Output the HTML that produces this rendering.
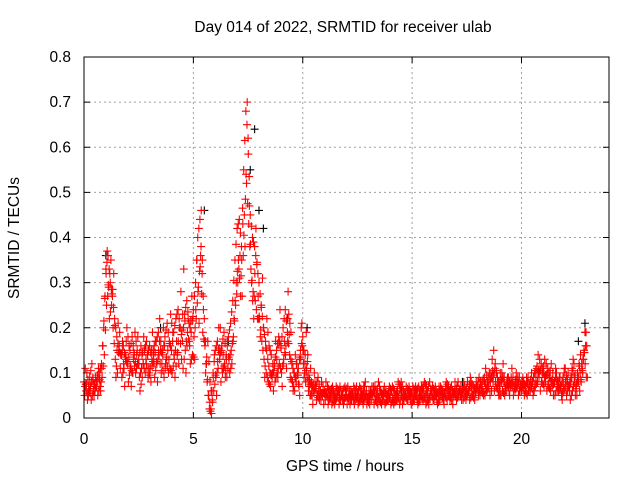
<!DOCTYPE html>
<html><head><meta charset="utf-8"><style>
body{margin:0;background:#fff}
svg text{font-family:"Liberation Sans",sans-serif;font-size:15.5px;fill:#000}
</style></head><body>
<svg id="c" width="640" height="480" xmlns="http://www.w3.org/2000/svg">
<text x="343" y="32" text-anchor="middle">Day 014 of 2022, SRMTID for receiver ulab</text>
<text x="345" y="471" text-anchor="middle">GPS time / hours</text>
<text transform="translate(19,238) rotate(-90)" text-anchor="middle">SRMTID / TECUs</text>
<g id="grid"></g><g id="pts"></g>
<rect x="84" y="57" width="525" height="361" fill="none" stroke="#000" stroke-width="1"/>
</svg>
<script>
const xTicks=[0,5,10,15,20];
const yTicks=[0,0.1,0.2,0.3,0.4,0.5,0.6,0.7,0.8];
const yTickLabels=["0","0.1","0.2","0.3","0.4","0.5","0.6","0.7","0.8"];
const tStart=0, tStep=0.1;
const seriesA=[0.08,0.06,0.05,0.07,0.09,0.06,0.08,0.10,0.12,0.20,
0.33,0.36,0.30,0.27,0.22,0.18,0.15,0.14,0.16,0.13,
0.12,0.15,0.18,0.14,0.11,0.13,0.16,0.12,0.10,0.14,
0.16,0.13,0.12,0.17,0.19,0.15,0.14,0.18,0.21,0.17,
0.15,0.19,0.22,0.24,0.20,0.17,0.23,0.26,0.21,0.19,
0.24,0.30,0.40,0.44,0.32,0.22,0.12,0.05,0.02,0.10,
0.15,0.17,0.13,0.16,0.19,0.14,0.18,0.21,0.26,0.35,
0.42,0.44,0.38,0.55,0.68,0.62,0.45,0.40,0.38,0.34,
0.30,0.25,0.20,0.17,0.13,0.10,0.09,0.12,0.15,0.18,
0.16,0.20,0.24,0.19,0.14,0.12,0.10,0.08,0.11,0.15,
0.18,0.12,0.09,0.07,0.08,0.06,0.07,0.09,0.06,0.05,
0.06,0.05,0.04,0.05,0.06,0.04,0.05,0.07,0.05,0.04,
0.05,0.04,0.06,0.05,0.04,0.05,0.07,0.06,0.04,0.05,
0.04,0.06,0.05,0.07,0.05,0.04,0.03,0.05,0.06,0.04,
0.05,0.07,0.06,0.04,0.05,0.08,0.06,0.05,0.04,0.06,
0.05,0.04,0.06,0.07,0.05,0.04,0.05,0.06,0.08,0.05,
0.04,0.06,0.05,0.07,0.06,0.05,0.04,0.06,0.07,0.05,
0.06,0.08,0.05,0.06,0.07,0.05,0.06,0.08,0.07,0.06,
0.07,0.05,0.08,0.09,0.06,0.07,0.10,0.08,0.12,0.09,
0.07,0.10,0.08,0.06,0.09,0.07,0.08,0.06,0.07,0.09,
0.06,0.08,0.07,0.09,0.06,0.08,0.10,0.11,0.09,0.12,
0.10,0.08,0.11,0.09,0.07,0.08,0.10,0.06,0.07,0.09,
0.11,0.08,0.06,0.09,0.12,0.07,0.09,0.14,0.10,0.19];
const seriesB=[0.05,0.10,0.07,0.04,0.06,0.09,0.05,0.07,0.09,0.14,
0.25,0.29,0.35,0.20,0.13,0.10,0.19,0.09,0.11,0.17,
0.08,0.11,0.10,0.19,0.15,0.09,0.11,0.18,0.13,0.09,
0.11,0.19,0.09,0.12,0.14,0.10,0.20,0.12,0.15,0.11,
0.10,0.13,0.17,0.12,0.28,0.11,0.15,0.19,0.16,0.27,
0.18,0.22,0.29,0.36,0.19,0.16,0.08,0.02,0.01,0.06,
0.09,0.11,0.20,0.10,0.12,0.09,0.13,0.15,0.18,0.25,
0.30,0.36,0.27,0.45,0.52,0.43,0.33,0.28,0.26,0.22,
0.22,0.17,0.13,0.10,0.08,0.07,0.12,0.08,0.10,0.12,
0.10,0.13,0.16,0.28,0.09,0.08,0.06,0.12,0.07,0.20,
0.12,0.08,0.14,0.05,0.05,0.10,0.04,0.06,0.04,0.07,
0.04,0.07,0.06,0.03,0.04,0.07,0.06,0.04,0.06,0.07,
0.03,0.06,0.04,0.07,0.06,0.03,0.04,0.05,0.07,0.03,
0.06,0.04,0.07,0.04,0.03,0.06,0.05,0.07,0.04,0.06,
0.03,0.04,0.05,0.06,0.03,0.05,0.04,0.07,0.06,0.04,
0.07,0.06,0.04,0.05,0.07,0.06,0.03,0.04,0.05,0.07,
0.06,0.04,0.07,0.05,0.04,0.07,0.06,0.04,0.05,0.06,
0.04,0.05,0.07,0.04,0.05,0.08,0.04,0.05,0.05,0.08,
0.05,0.08,0.06,0.05,0.08,0.10,0.06,0.15,0.07,0.06,
0.10,0.06,0.05,0.08,0.06,0.09,0.05,0.08,0.09,0.06,
0.08,0.05,0.09,0.06,0.08,0.05,0.07,0.08,0.13,0.08,
0.07,0.12,0.07,0.06,0.10,0.05,0.07,0.09,0.05,0.06,
0.07,0.10,0.04,0.06,0.08,0.05,0.12,0.08,0.13,0.16];
const seriesC=[0.11,0.04,0.09,0.12,0.05,0.08,0.11,0.06,0.16,0.27,
0.37,0.22,0.25,0.32,0.09,0.21,0.11,0.17,0.07,0.20,
0.16,0.07,0.13,0.10,0.18,0.06,0.09,0.15,0.17,0.11,
0.08,0.15,0.17,0.08,0.22,0.12,0.09,0.13,0.10,0.23,
0.19,0.09,0.14,0.20,0.13,0.33,0.10,0.22,0.12,0.14,
0.13,0.35,0.21,0.46,0.24,0.10,0.17,0.08,0.04,0.14,
0.05,0.20,0.08,0.14,0.09,0.17,0.10,0.12,0.22,0.30,
0.35,0.27,0.43,0.38,0.70,0.47,0.30,0.22,0.42,0.27,
0.18,0.31,0.09,0.22,0.16,0.14,0.06,0.17,0.09,0.24,
0.07,0.17,0.11,0.23,0.19,0.06,0.14,0.10,0.05,0.21,
0.09,0.19,0.06,0.11,0.03,0.08,0.05,0.04,0.08,0.03,
0.08,0.03,0.06,0.07,0.03,0.06,0.03,0.05,0.03,0.06,
0.07,0.03,0.05,0.03,0.07,0.04,0.05,0.03,0.08,0.04,
0.03,0.07,0.03,0.05,0.08,0.06,0.05,0.03,0.04,0.07,
0.06,0.03,0.04,0.08,0.07,0.03,0.05,0.04,0.07,0.03,
0.04,0.07,0.03,0.04,0.06,0.08,0.07,0.03,0.06,0.04,
0.07,0.03,0.04,0.06,0.03,0.08,0.07,0.05,0.03,0.08,
0.05,0.06,0.04,0.08,0.04,0.06,0.09,0.05,0.04,0.07,
0.09,0.06,0.05,0.11,0.08,0.05,0.13,0.06,0.10,0.05,
0.05,0.12,0.06,0.09,0.05,0.11,0.07,0.10,0.05,0.07,
0.09,0.06,0.05,0.07,0.10,0.06,0.09,0.14,0.06,0.10,
0.13,0.06,0.09,0.12,0.05,0.11,0.06,0.09,0.04,0.11,
0.05,0.07,0.09,0.13,0.05,0.10,0.06,0.11,0.15,0.09];
const blackT=[1.0,3.5,5.5,6.6,7.6,7.8,8.0,8.2,9.3,10.2,12.8,14.5,17.3,19.0,22.6,22.9];
const blackV=[0.36,0.20,0.46,0.17,0.55,0.64,0.46,0.42,0.22,0.20,0.07,0.06,0.08,0.07,0.17,0.21];
const X=t=>84+t*(525/24), Y=v=>418-v*(361/0.8);
const NS="http://www.w3.org/2000/svg";
const g=document.getElementById('grid'), p=document.getElementById('pts');
function mk(tag,at,parent){const e=document.createElementNS(NS,tag);for(const k in at)e.setAttribute(k,at[k]);parent.appendChild(e);return e;}
xTicks.forEach(t=>{const x=X(t);
 if(t>0){const l=mk('line',{x1:x,x2:x,y1:57,y2:418,stroke:'#a0a0a0','stroke-dasharray':'2,3'},g);
 
 }
 mk('line',{x1:x,x2:x,y1:418,y2:412,stroke:'#000'},g);mk('line',{x1:x,x2:x,y1:57,y2:63,stroke:'#000'},g);
 const tx=mk('text',{x:x,y:444,'text-anchor':'middle'},g);tx.textContent=t;
 
 });
yTicks.forEach((v,i)=>{const y=Y(v);
 if(v>0&&v<0.8){const l=mk('line',{x1:84,x2:609,y1:y,y2:y,stroke:'#a0a0a0','stroke-dasharray':'2,3'},g);
 
 }
 mk('line',{x1:84,x2:90,y1:y,y2:y,stroke:'#000'},g);mk('line',{x1:609,x2:603,y1:y,y2:y,stroke:'#000'},g);
 const tx=mk('text',{x:71,y:y+5,'text-anchor':'end'},g);tx.textContent=yTickLabels[i];
 
 });
function plus(x,y,c){return mk('path',{d:`M${x-4} ${y}h8M${x} ${y-4}v8`,stroke:c,'stroke-width':1.1,fill:'none'},p);}
blackT.forEach((t,i)=>{const e=plus(X(t),Y(blackV[i]),'#000');
 
 });
[seriesA,seriesB,seriesC].forEach((s,k)=>s.forEach((v,i)=>{const t=tStart+i*tStep+k*0.03;
 const e=plus(X(t),Y(v),'#ff0000');
 
 
 const e2=plus(X(t+0.05),Y((v+s[Math.min(i+1,s.length-1)])/2),'#ff0000');
 
 }));
</script>
</body></html>
